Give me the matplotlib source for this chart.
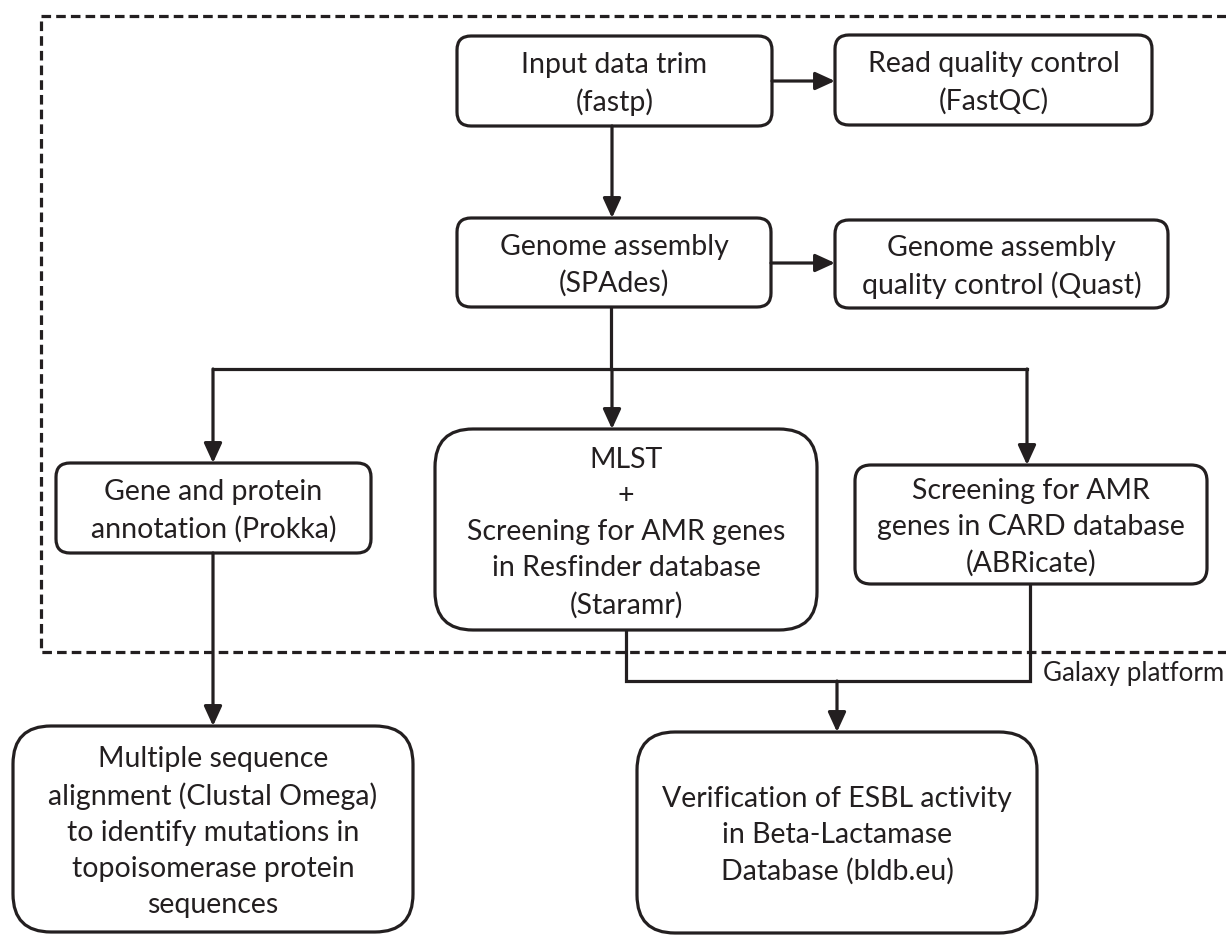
# galaxy_workflow_flowchart.py
# Flowchart of the WGS analysis workflow (Galaxy platform)

import matplotlib.pyplot as plt
from matplotlib.patches import FancyBboxPatch, Rectangle

# Box labels
box_names = ["trim", "fastqc", "spades", "quast", "prokka", "mlst", "card", "msa", "esbl"]
box_labels = [
    "Input data trim\n(fastp)",
    "Read quality control\n(FastQC)",
    "Genome assembly\n(SPAdes)",
    "Genome assembly\nquality control (Quast)",
    "Gene and protein\nannotation (Prokka)",
    "MLST\n+\nScreening for AMR genes\nin Resfinder database\n(Staramr)",
    "Screening for AMR\ngenes in CARD database\n(ABRicate)",
    "Multiple sequence\nalignment (Clustal Omega)\nto identify mutations in\ntopoisomerase protein\nsequences",
    "Verification of ESBL activity\nin Beta-Lactamase\nDatabase (bldb.eu)",
]
platform_label = "Galaxy platform"

# Layout in pixel space (x0, y0, x1, y1, corner radius)
layout = {
    "trim":   (457, 36, 772, 126, 14),
    "fastqc": (835, 35, 1152, 125, 14),
    "spades": (457, 218, 771, 307, 14),
    "quast":  (835, 220, 1168, 308, 14),
    "prokka": (56, 463, 371, 553, 14),
    "mlst":   (435, 429, 817, 630, 38),
    "card":   (855, 465, 1207, 584, 16),
    "msa":    (13, 726, 413, 932, 38),
    "esbl":   (637, 732, 1037, 933, 38),
}

INK = "#231f20"
LW = 2.3
FONT = "Lato"

fig = plt.figure(figsize=(12.26, 9.35), dpi=100)
ax = fig.add_axes([0, 0, 1, 1])
ax.set_xlim(0, 1226)
ax.set_ylim(935, 0)
ax.axis("off")

# dashed Galaxy platform frame (runs off the right edge)
frame = Rectangle((41, 16), 1200, 636, fill=False, edgecolor=INK, lw=LW,
                  linestyle=(0, (3.0, 1.6)), clip_on=False)
ax.add_patch(frame)
ax.text(1043, 673, platform_label, ha="left", va="center", fontsize=18.6,
        family=FONT, color=INK)

# boxes
for name, label in zip(box_names, box_labels):
    x0, y0, x1, y1, r = layout[name]
    patch = FancyBboxPatch((x0, y0), x1 - x0, y1 - y0,
                           boxstyle=f"round,pad=0,rounding_size={r}",
                           facecolor="white", edgecolor=INK, lw=LW, zorder=3)
    ax.add_patch(patch)
    ax.text((x0 + x1) / 2, (y0 + y1) / 2 + 3, label, ha="center", va="center",
            fontsize=20.5, family=FONT, color=INK, linespacing=1.48, zorder=4)


def line(pts):
    xs, ys = zip(*pts)
    ax.plot(xs, ys, color=INK, lw=LW, solid_capstyle="projecting",
            solid_joinstyle="miter", zorder=2)


def arrow(p0, p1):
    ax.annotate("", xy=p1, xytext=p0,
                arrowprops=dict(arrowstyle="-|>,head_length=0.7,head_width=0.32",
                                mutation_scale=17, color=INK, lw=LW,
                                shrinkA=0, shrinkB=0),
                zorder=5)


# top row
arrow((772, 81), (835, 81))
arrow((612, 126), (612, 218))
arrow((771, 263), (835, 263))

# split after assembly
line([(611, 307), (611, 369)])
line([(213, 369), (1027, 369)])
arrow((213, 369), (213, 463))
arrow((612, 369), (612, 429))
arrow((1027, 369), (1027, 465))

# downstream
arrow((213, 553), (213, 726))
line([(626, 630), (626, 681), (1030, 681), (1030, 584)])
arrow((837, 681), (837, 732))

fig.savefig("out.png", dpi=100, facecolor="white")
